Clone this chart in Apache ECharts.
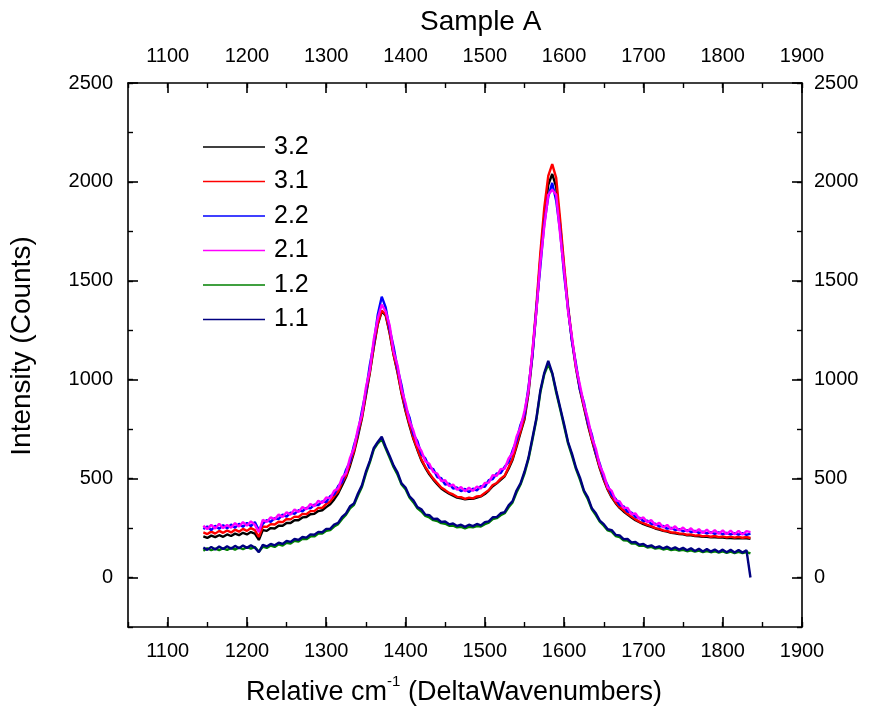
<!DOCTYPE html>
<html>
<head>
<meta charset="utf-8">
<script src="https://cdn.jsdelivr.net/npm/echarts@6/dist/echarts.min.js"></script>
<style>
html,body{margin:0;padding:0;background:#fff;}
#chart{width:871px;height:715px;}
</style>
</head>
<body>
<div id="chart"></div>
<script>
// Raman shift (cm-1) sampling positions
const waveNumbers = [1145,1150,1155,1160,1165,1170,1175,1180,1185,1190,1195,1200,1205,1210,1215,1220,1225,1230,1235,1240,1245,1250,1255,1260,1265,1270,1275,1280,1285,1290,1295,1300,1305,1310,1315,1320,1325,1330,1335,1340,1345,1350,1355,1360,1365,1370,1375,1380,1385,1390,1395,1400,1405,1410,1415,1420,1425,1430,1435,1440,1445,1450,1455,1460,1465,1470,1475,1480,1485,1490,1495,1500,1505,1510,1515,1520,1525,1530,1535,1540,1545,1550,1555,1560,1565,1570,1575,1580,1585,1590,1595,1600,1605,1610,1615,1620,1625,1630,1635,1640,1645,1650,1655,1660,1665,1670,1675,1680,1685,1690,1695,1700,1705,1710,1715,1720,1725,1730,1735,1740,1745,1750,1755,1760,1765,1770,1775,1780,1785,1790,1795,1800,1805,1810,1815,1820,1825,1830,1835];

const seriesNames = ['3.2','3.1','2.2','2.1','1.2','1.1'];
const seriesColors = ['#000000','#ff0000','#0000ff','#ff00ff','#008000','#000080'];

const s32 = [208,200,212,204,214,206,218,210,222,214,226,218,230,222,190,240,236,250,248,262,262,276,276,290,290,304,306,320,322,336,340,356,370,395,425,465,508,565,632,715,805,920,1035,1165,1280,1345,1325,1235,1125,1035,930,842,768,700,645,592,555,522,495,472,450,436,424,414,404,400,396,398,398,404,410,422,440,462,476,494,512,550,596,662,732,800,930,1120,1350,1610,1830,1985,2040,1975,1780,1560,1355,1195,1058,948,860,772,694,622,552,494,444,405,376,352,334,318,304,290,280,270,263,256,248,242,236,232,226,224,220,218,214,213,210,209,206,206,204,204,202,202,200,200,199,199,198,198,196];

const s31 = [228,220,232,222,236,226,238,228,242,232,246,236,250,240,205,258,256,270,268,282,280,296,294,308,306,322,320,336,336,352,352,372,385,412,435,480,515,578,640,728,812,930,1042,1172,1285,1350,1330,1240,1128,1040,935,848,775,705,650,598,560,528,500,478,455,442,428,420,408,406,398,404,400,410,412,428,442,468,478,500,515,558,602,670,740,810,945,1140,1375,1640,1870,2030,2090,2020,1810,1580,1370,1205,1065,955,868,778,700,628,558,498,448,410,380,356,340,322,308,294,282,275,266,260,250,246,238,236,228,228,222,222,216,218,212,214,208,212,206,210,204,208,203,207,202,206,201,205,200];

const s22 = [245,258,240,262,246,265,249,268,252,272,256,276,260,280,240,272,290,282,300,296,318,308,328,322,340,335,352,350,368,366,385,382,412,420,462,482,545,585,668,735,842,940,1075,1185,1330,1420,1365,1255,1165,1055,972,862,810,722,690,622,602,556,548,508,502,470,475,450,455,437,448,432,450,440,462,458,492,498,526,528,560,584,642,692,772,822,960,1122,1360,1572,1790,1925,1995,1905,1750,1530,1360,1192,1078,952,885,782,722,632,575,505,465,418,398,366,360,333,328,306,302,286,288,271,272,258,261,247,251,240,245,234,240,230,236,226,232,223,230,221,228,219,226,218,225,217,224,216,222];

const s21 = [262,245,266,248,272,250,266,252,275,258,280,262,284,266,230,292,281,305,294,318,306,330,318,344,331,356,345,372,360,388,377,405,400,438,450,505,528,605,655,752,822,960,1050,1205,1310,1380,1345,1275,1140,1072,952,882,792,742,672,640,588,575,534,526,488,492,462,470,444,458,436,454,438,460,450,478,480,518,514,548,550,602,630,712,760,842,945,1142,1345,1592,1775,1935,1960,1935,1735,1552,1345,1212,1065,972,875,802,710,652,566,522,455,438,390,385,352,352,320,324,296,304,280,290,265,277,253,266,244,259,238,253,233,249,229,245,225,242,223,240,221,238,219,237,218,236,217,235,230];

const s12 = [135,148,138,146,139,148,140,150,141,152,143,154,146,155,130,156,150,162,155,168,162,176,172,186,182,196,194,208,208,222,222,236,240,258,270,296,318,350,368,415,458,525,582,648,678,700,652,606,558,520,470,446,405,380,350,334,312,304,290,286,275,272,262,262,254,256,249,256,254,260,258,270,278,295,300,315,325,355,380,430,470,525,598,695,798,935,1028,1078,1030,935,852,765,678,615,548,495,434,396,345,316,282,262,238,232,210,205,188,187,172,172,160,162,152,155,146,150,142,146,139,143,136,140,133,138,131,136,129,134,128,133,126,132,125,131,124,130,123,129,122];

const s11 = [152,140,155,142,157,144,158,146,160,148,162,150,163,151,128,165,157,170,163,176,170,185,180,195,190,205,202,218,216,231,229,246,246,268,276,307,324,360,374,425,466,535,590,655,685,712,660,615,566,530,476,455,411,390,356,345,318,315,296,297,281,283,269,273,261,267,256,267,260,271,264,280,284,305,306,325,331,365,386,440,476,535,605,705,805,945,1035,1095,1035,945,860,775,685,625,555,505,440,405,350,325,288,270,244,240,216,213,194,195,178,180,166,170,157,163,151,158,147,156,144,153,141,150,138,148,134,146,132,144,131,142,129,141,128,140,127,139,126,138,0];

const xMajorTicks = [1100,1200,1300,1400,1500,1600,1700,1800,1900];
const yMajorTicks = [0,500,1000,1500,2000,2500];

const allSeries = [s32, s31, s22, s21, s12, s11];

const chart = echarts.init(document.getElementById('chart'), null, {renderer: 'canvas'});
const FONT = '"Liberation Sans", Arial, sans-serif';
const axisLineStyle = {show: true, onZero: false, lineStyle: {color: '#000', width: 1.6}};
const hiddenLine = {show: false, onZero: false};

function xAx(pos, major, showName) {
  const a = {
    type: 'value', position: pos, min: 1050, max: 1900, interval: 50,
    gridIndex: 0, splitLine: {show: false},
    axisLine: major ? hiddenLine : axisLineStyle,
    axisTick: major
      ? {show: true, inside: true, length: 10, customValues: xMajorTicks, lineStyle: {color: '#000', width: 1.6}}
      : {show: true, inside: true, length: 5, lineStyle: {color: '#000', width: 1.4}},
    axisLabel: major ? {show: false} : {
      show: true, margin: pos === 'bottom' ? 14 : 17,
      fontFamily: FONT, fontSize: 20, color: '#000',
      formatter: v => (v % 100 === 0 ? String(v) : '')
    }
  };
  if (showName) {
    a.name = '{m|Relative cm}{s|-1}{m| (DeltaWavenumbers)}';
    a.nameLocation = 'middle';
    a.nameGap = 47;
    a.nameTextStyle = {
      padding: [0, 22, 0, 0],
      rich: {
        m: {fontFamily: FONT, fontSize: 27, color: '#000', verticalAlign: 'bottom', lineHeight: 32},
        s: {fontFamily: FONT, fontSize: 15, color: '#000', verticalAlign: 'top', lineHeight: 32, padding: [0, 0, 13, 0]}
      }
    };
  }
  return a;
}
function yAx(pos, major, showName) {
  const a = {
    type: 'value', position: pos, min: -250, max: 2500, interval: 250,
    gridIndex: 0, splitLine: {show: false},
    axisLine: major ? hiddenLine : axisLineStyle,
    axisTick: major
      ? {show: true, inside: true, length: 10, customValues: yMajorTicks, lineStyle: {color: '#000', width: 1.6}}
      : {show: true, inside: true, length: 5, lineStyle: {color: '#000', width: 1.4}},
    axisLabel: major ? {show: false} : {
      show: true, margin: pos === 'left' ? 15 : 12,
      fontFamily: FONT, fontSize: 20, color: '#000',
      formatter: v => (v % 500 === 0 && v >= 0 ? String(v) : '')
    }
  };
  if (showName) {
    a.name = 'Intensity (Counts)';
    a.nameLocation = 'middle';
    a.nameGap = 92;
    a.nameTextStyle = {fontFamily: FONT, fontSize: 28, color: '#000', padding: [0, 0, 0, 18]};
  }
  return a;
}

const option = {
  animation: false,
  backgroundColor: '#fff',
  title: {
    text: 'Sample A', left: 415, top: 3,
    textStyle: {fontFamily: FONT, fontSize: 28, fontWeight: 'normal', color: '#000'}
  },
  grid: {left: 127, top: 83, width: 675, height: 544, containLabel: false},
  legend: {
    orient: 'vertical', left: 198, top: 128,
    icon: 'rect',
    itemWidth: 62, itemHeight: 1.5, itemGap: 6.5,
    data: seriesNames,
    textStyle: {fontFamily: FONT, fontSize: 25, color: '#000', lineHeight: 28, padding: [0, 0, 0, 4]}
  },
  xAxis: [xAx('bottom', false, true), xAx('bottom', true, false), xAx('top', false, false), xAx('top', true, false)],
  yAxis: [yAx('left', false, true), yAx('left', true, false), yAx('right', false, false), yAx('right', true, false)],
  series: allSeries.map((vals, k) => ({
    name: seriesNames[k],
    type: 'line',
    xAxisIndex: 0, yAxisIndex: 0,
    symbol: 'none',
    lineStyle: {color: seriesColors[k], width: 2.4},
    itemStyle: {color: seriesColors[k]},
    data: waveNumbers.map((w, i) => [w, vals[i]])
  }))
};
chart.setOption(option);
</script>
</body>
</html>
